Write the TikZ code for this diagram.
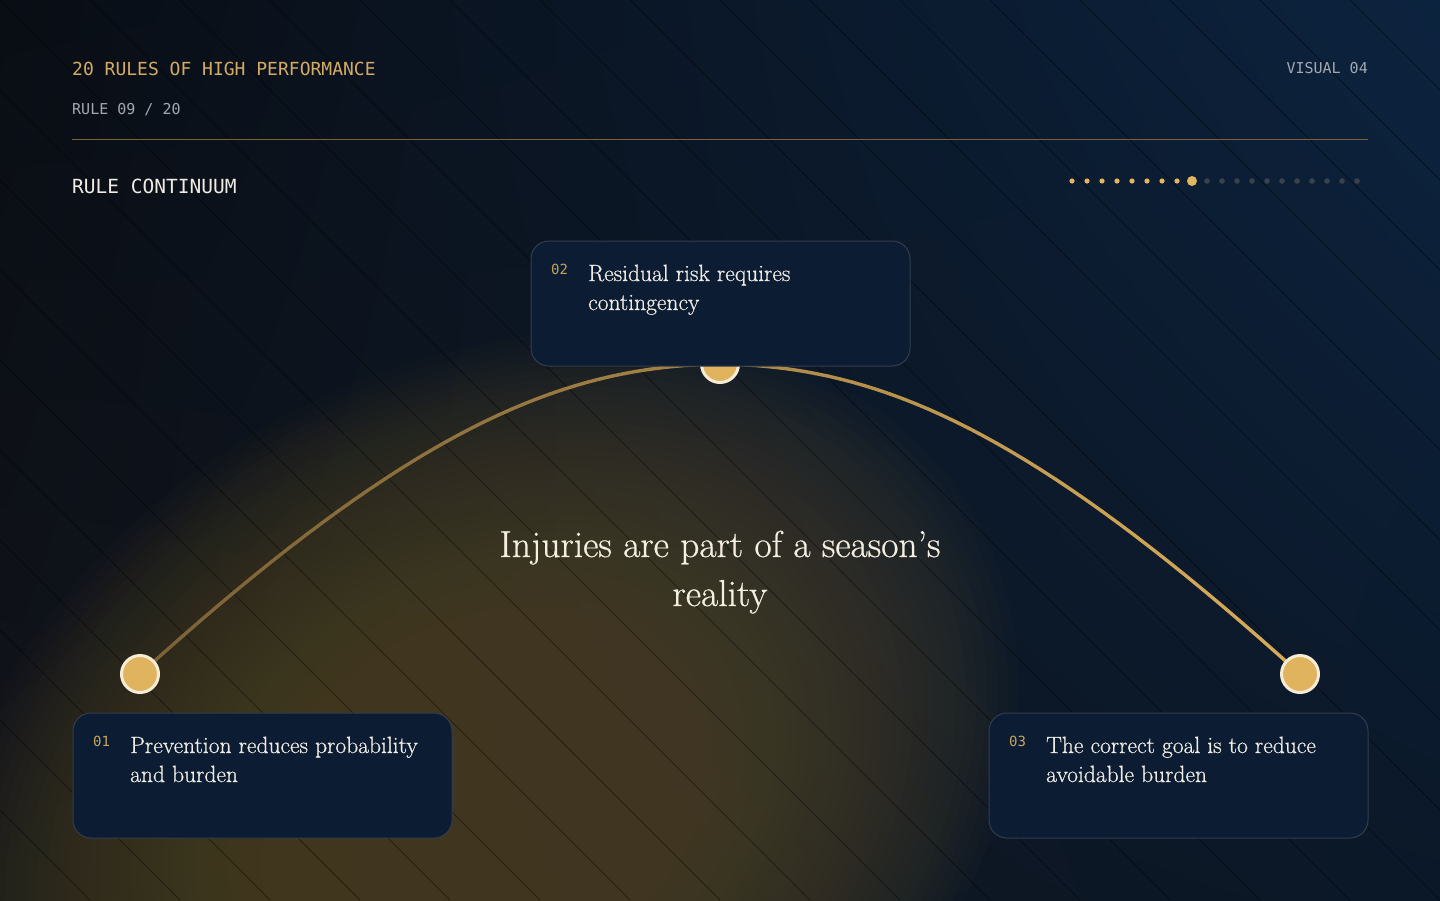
\documentclass[tikz,border=0pt]{standalone}
\usepackage{fontspec}
\newfontfamily\monof{DejaVu Sans Mono}
\newfontfamily\dispf{Latin Modern Roman}[FakeBold=0.6]
\usetikzlibrary{shadings}
\definecolor{bgTL}{HTML}{090D14}
\definecolor{bgTR}{HTML}{0C233F}
\definecolor{bgBL}{HTML}{11141A}
\definecolor{bgBR}{HTML}{0B1828}
\definecolor{glowc}{HTML}{52472D}
\definecolor{goldtxt}{HTML}{D4AB64}
\definecolor{greytxt}{HTML}{A3A8B0}
\definecolor{numgold}{HTML}{C9A45C}
\definecolor{cardtxt}{HTML}{F0ECE4}
\definecolor{titletxt}{HTML}{F5EFE2}
\definecolor{hrc}{HTML}{7A6234}
\definecolor{arcL}{HTML}{7B6236}
\definecolor{arcR}{HTML}{D8AB58}
\definecolor{cardfill}{HTML}{0B1C33}
\definecolor{cardborder}{HTML}{343D4C}
\definecolor{knobfill}{HTML}{E0B35F}
\definecolor{knobring}{HTML}{F6ECD6}
\definecolor{dotgold}{HTML}{E2B560}
\definecolor{dotgrey}{HTML}{39414D}
\pgfdeclarelayer{back}
\pgfdeclarelayer{mid}
\pgfsetlayers{back,mid,main}
\begin{document}
\begin{tikzpicture}[x=1pt,y=-1pt,
  diag/.style={draw=black, line width=0.8pt, opacity=0.4},
  glowring/.style={fill=glowc, opacity=0.055},
  arcseg/.style={line width=3.4pt, line cap=round},
  card/.style={draw=cardborder, fill=cardfill, line width=1pt, rounded corners=18pt,
    minimum width=379pt, minimum height=125pt, inner sep=0pt},
  knob/.style={circle, draw=knobring, fill=knobfill, line width=3pt, minimum size=37pt, inner sep=0pt},
  hdr/.style={font=\monof\fontsize{18}{20}\selectfont, text=goldtxt, inner sep=0pt},
  sub/.style={font=\monof\fontsize{15}{18}\selectfont, text=greytxt, inner sep=0pt},
  sect/.style={font=\monof\fontsize{19.5}{22}\selectfont, text=cardtxt, inner sep=0pt},
  num/.style={font=\monof\fontsize{14}{16}\selectfont, text=numgold, inner sep=0pt, anchor=base west},
  ctext/.style={font=\dispf\fontsize{23.5}{29}\selectfont, text=cardtxt, inner sep=0pt, anchor=base west},
  ttext/.style={font=\dispf\fontsize{37.5}{49}\selectfont, text=titletxt, inner sep=0pt, anchor=base}]
\useasboundingbox (0,0) rectangle (1440,900);

\begin{pgfonlayer}{back}
  \shade[upper left=bgTL, upper right=bgTR, lower left=bgBL, lower right=bgBR] (0,0) rectangle (1440,900);
  \begin{scope}
    \clip (0,0) rectangle (1440,900);
    \begin{scope}[rotate around={30:(480,800)}]
    \foreach \s in {0,...,44}
      \fill[glowring] (480,800) ellipse [x radius={570*(1-0.88*\s/45)}, y radius={430*(1-0.88*\s/45)}];
    \end{scope}
    \foreach \k in {-10,...,16} \draw[diag] (90*\k,0) -- (90*\k+900,900);
  \end{scope}
  \draw[hrc, line width=1pt] (72,139) -- (1368,139);
\end{pgfonlayer}

% header texts
\node[hdr, anchor=base west] (head) at (72,75) {20 RULES OF HIGH PERFORMANCE};
\node[sub, anchor=base west] (rule) at (72,114) {RULE 09 / 20};
\node[sub, anchor=base east] (visual) at (1368,73) {VISUAL 04};
\node[sect, anchor=base west] (cont) at (72,193) {RULE CONTINUUM};

% progress dots
\foreach \i in {0,...,7} \fill[dotgold] (1072+15*\i,181) circle (2.6);
\fill[dotgold] (1192,181) circle (5);
\foreach \i in {9,...,19} \fill[dotgrey] (1072+15*\i,181) circle (2.8);

% knobs
\node[knob] (c1) at (140,674) {};
\node[knob] (c2) at (720,364) {};
\node[knob] (c3) at (1300,674) {};

% arc
\path (c1.center) .. controls (410,430) and (560,366) .. (c2.center)
  \foreach \i in {0,...,40}{coordinate[pos=\i/40] (L\i)};
\path (c2.center) .. controls (880,366) and (1030,430) .. (c3.center)
  \foreach \i in {0,...,40}{coordinate[pos=\i/40] (R\i)};
\begin{pgfonlayer}{mid}
\foreach \i in {0,...,39}{
  \pgfmathtruncatemacro{\j}{\i+1}
  \pgfmathtruncatemacro{\p}{round(\i*50/40)}
  \pgfmathtruncatemacro{\q}{round(50+\i*50/40)}
  \draw[arcseg, color=arcR!\p!arcL] (L\i) -- (L\j);
  \draw[arcseg, color=arcR!\q!arcL] (R\i) -- (R\j);
}
\end{pgfonlayer}

% cards
\node[card] (card2) at (720.5,303.5) {};
\node[card] (card1) at (262.5,775.5) {};
\node[card] (card3) at (1178.5,775.5) {};

\node[num] (n2) at (551,274) {02};
\node[ctext] (t2a) at (588,281) {Residual risk requires};
\node[ctext] (t2b) at (588,310) {contingency};

\node[num] (n1) at (93,746) {01};
\node[ctext] (t1a) at (130,753) {Prevention reduces probability};
\node[ctext] (t1b) at (130,782) {and burden};

\node[num] (n3) at (1009,746) {03};
\node[ctext] (t3a) at (1046,753) {The correct goal is to reduce};
\node[ctext] (t3b) at (1046,782) {avoidable burden};

% title
\node[ttext] (title1) at (720,557) {Injuries are part of a season’s};
\node[ttext] (title2) at (720,606) {reality};
\end{tikzpicture}
\end{document}
